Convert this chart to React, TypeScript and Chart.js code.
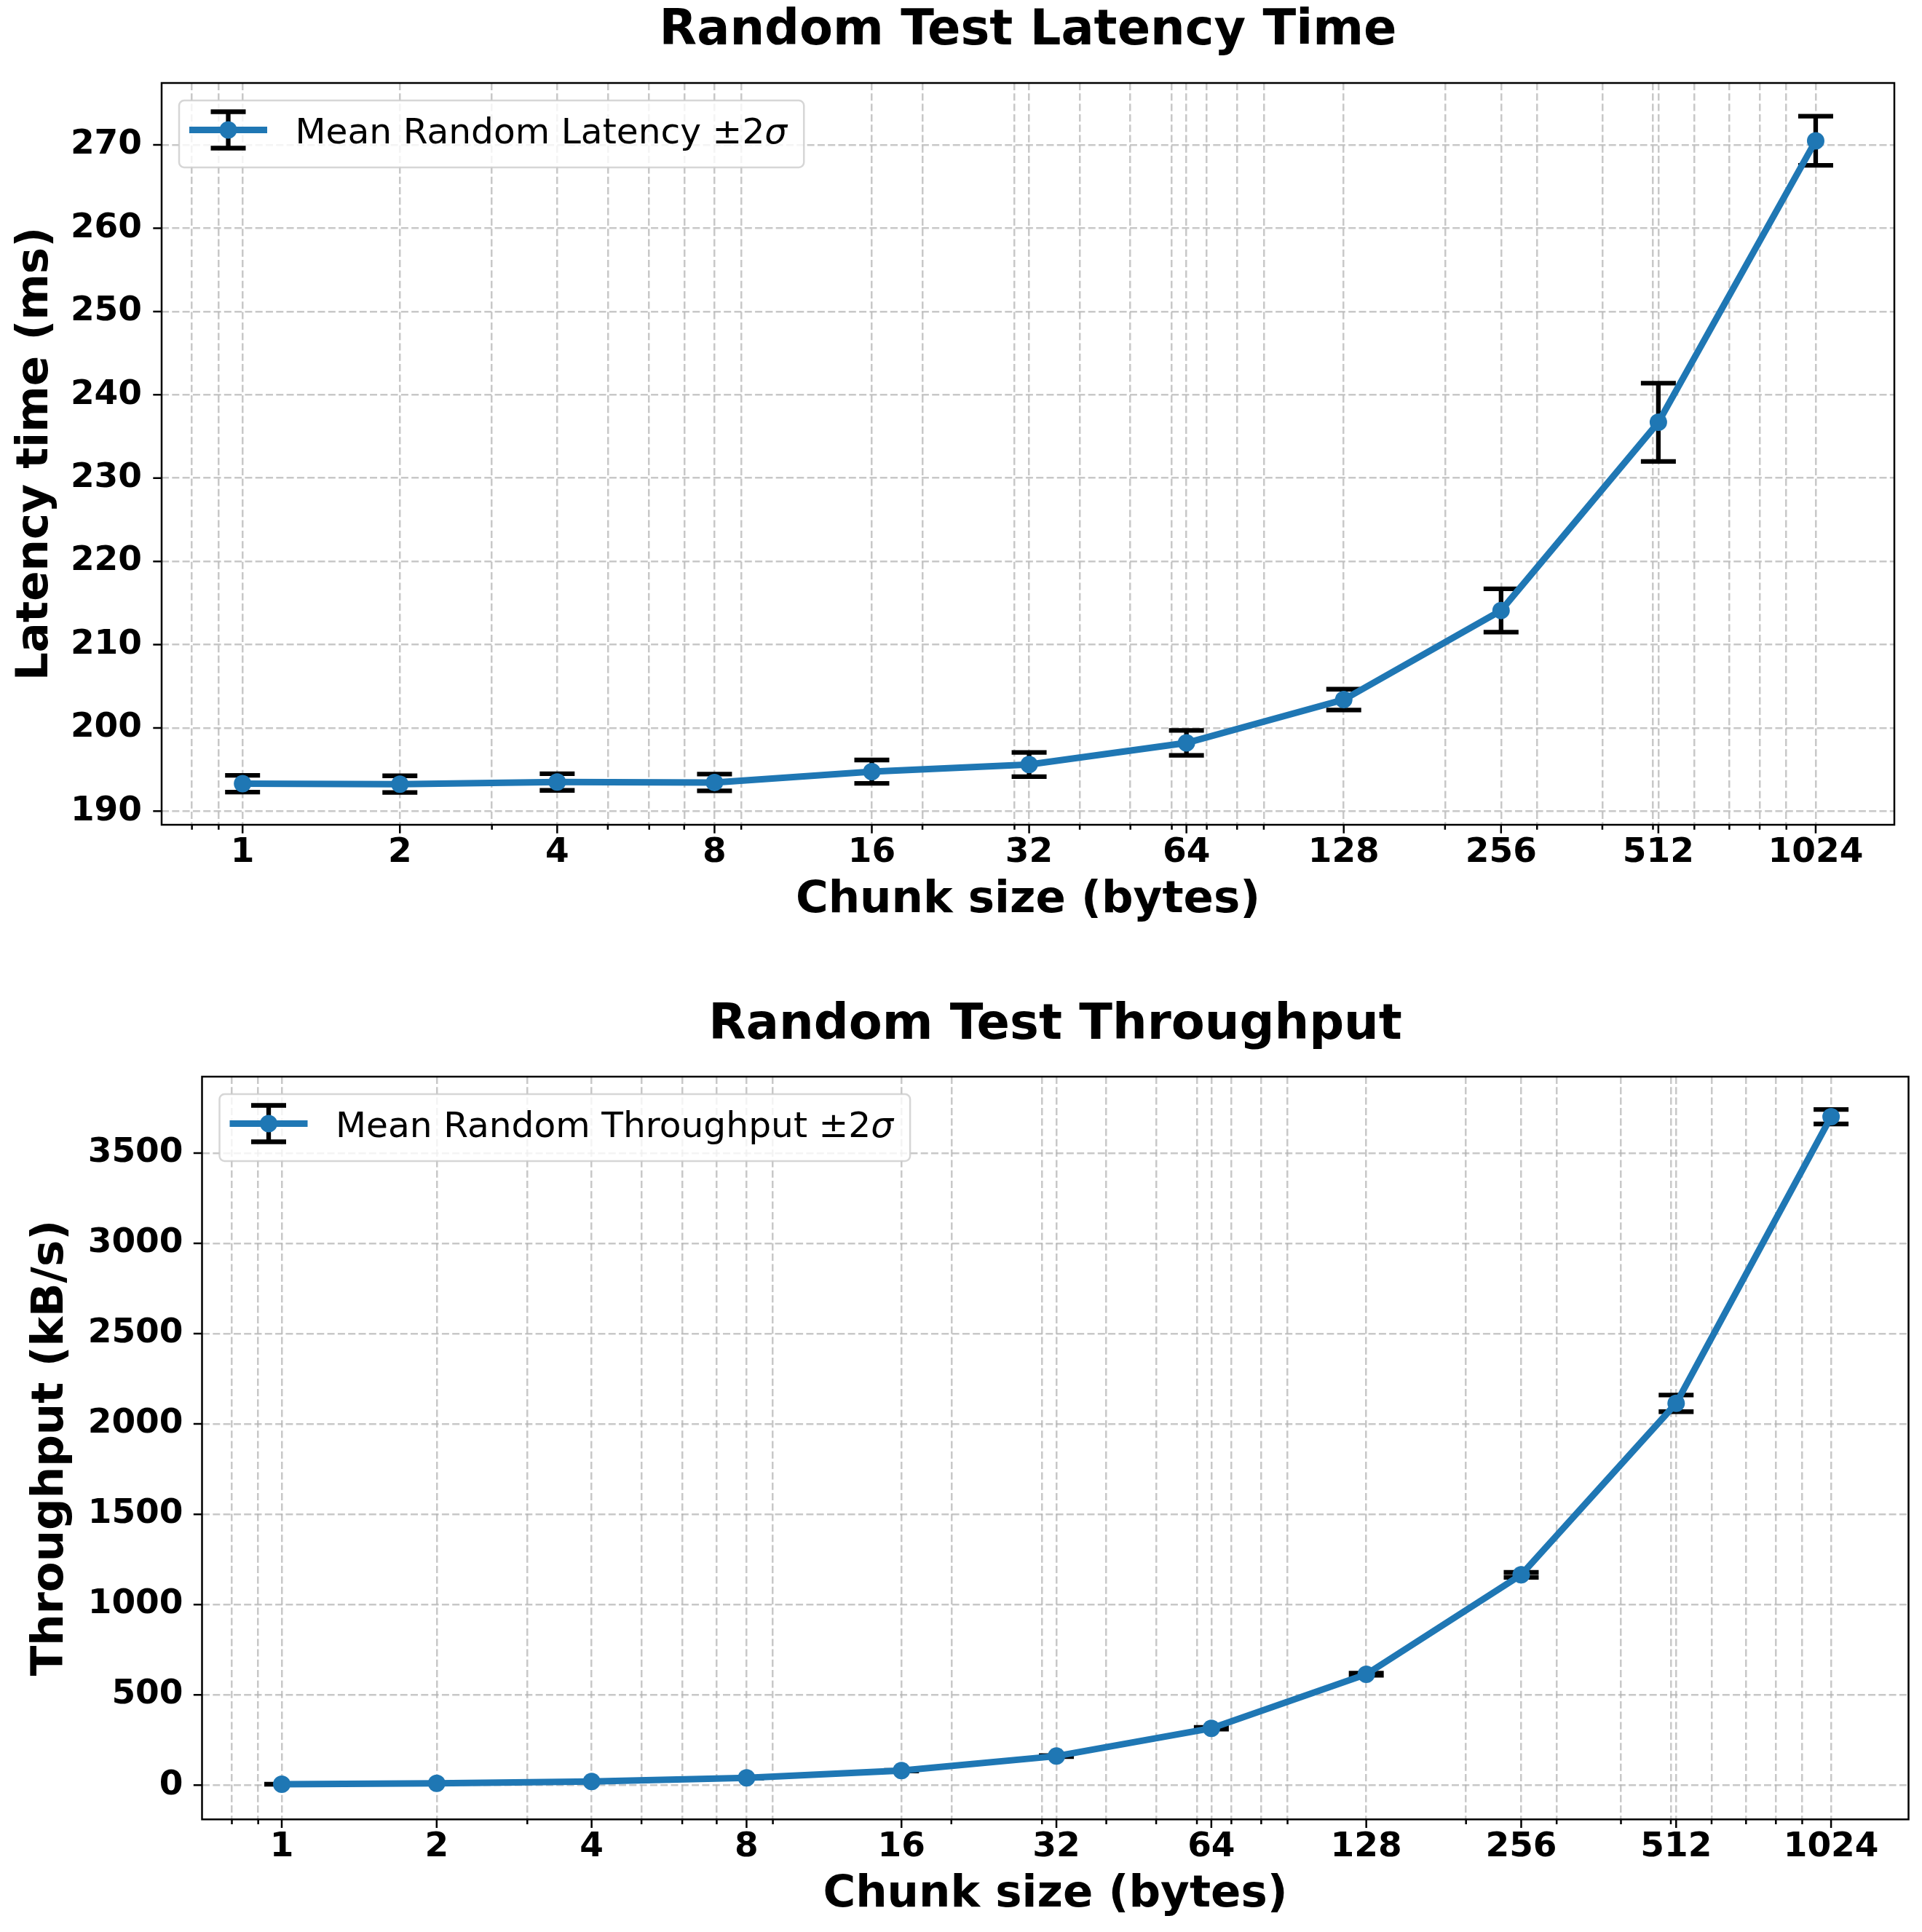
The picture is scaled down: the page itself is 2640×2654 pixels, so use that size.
import React, { useEffect, useRef } from 'react';
import { Chart, registerables } from 'chart.js';

Chart.register(...registerables);

// values
const chunkSizes = [1, 2, 4, 8, 16, 32, 64, 128, 256, 512, 1024];
const latencyMean = [193.3, 193.25, 193.5, 193.45, 194.75, 195.6, 198.2, 203.4, 214.1, 236.7, 270.5];
const latencyErr = [1.0, 1.0, 1.0, 1.0, 1.4, 1.45, 1.5, 1.25, 2.6, 4.7, 2.95];
const throughputMean = [5.1, 10.1, 20.2, 40.4, 80.5, 161, 315, 614, 1165, 2114, 3701];
const throughputErr = [0.5, 0.5, 0.7, 1, 2, 3, 5, 6, 14, 46, 40];

const majorTicks = [1, 2, 4, 8, 16, 32, 64, 128, 256, 512, 1024];
const minorTicks = [0.8, 0.9, 2, 3, 4, 5, 6, 7, 8, 9, 20, 30, 40, 50, 60, 70, 80, 90, 200, 300, 400, 500, 600, 700, 800, 900];
const latencyTicks = [190, 200, 210, 220, 230, 240, 250, 260, 270];
const throughputTicks = [0, 500, 1000, 1500, 2000, 2500, 3000, 3500];

const FONT = '"DejaVu Sans", sans-serif';
const BLUE = '#1f77b4';
const GRID = 'rgba(176,176,176,0.7)';
const LEGEND_SIZE = 48.7;
const xTickValues = Array.from(new Set([...majorTicks, ...minorTicks])).sort((a, b) => a - b);

const errorBarPlugin = (errors: number[]) => ({
  id: 'errorBars',
  beforeDatasetsDraw(chart: any) {
    const { ctx, scales: { x, y } } = chart;
    const data = chart.data.datasets[0].data as { x: number; y: number }[];
    ctx.save();
    ctx.strokeStyle = '#000';
    ctx.lineWidth = 6.3;
    data.forEach((d, i) => {
      const px = x.getPixelForValue(d.x);
      const top = y.getPixelForValue(d.y + errors[i]);
      const bot = y.getPixelForValue(d.y - errors[i]);
      ctx.beginPath();
      ctx.moveTo(px, top);
      ctx.lineTo(px, bot);
      ctx.moveTo(px - 24, top);
      ctx.lineTo(px + 24, top);
      ctx.moveTo(px - 24, bot);
      ctx.lineTo(px + 24, bot);
      ctx.stroke();
    });
    ctx.restore();
  },
});

// matplotlib-like box frame and outward tick marks
const frameTicksPlugin = {
  id: 'frameTicks',
  afterDraw(chart: any) {
    const { ctx, chartArea: a, scales: { x, y } } = chart;
    ctx.save();
    ctx.strokeStyle = '#000';
    ctx.lineWidth = 2.5;
    ctx.beginPath();
    x.ticks.forEach((t: any) => {
      const px = x.getPixelForValue(t.value);
      const len = majorTicks.includes(t.value) ? 11.7 : 6.7;
      ctx.moveTo(px, a.bottom);
      ctx.lineTo(px, a.bottom + len);
    });
    y.ticks.forEach((t: any) => {
      const py = y.getPixelForValue(t.value);
      ctx.moveTo(a.left, py);
      ctx.lineTo(a.left - 11.7, py);
    });
    ctx.stroke();
    ctx.strokeRect(a.left, a.top, a.right - a.left, a.bottom - a.top);
    ctx.restore();
  },
};

// legend box in the upper left corner with an errorbar glyph
const errorLegendPlugin = {
  id: 'errorLegend',
  afterDraw(chart: any) {
    const { ctx, chartArea: a } = chart;
    const label: string = chart.data.datasets[0].label;
    const base = label.slice(0, -1);
    const sigma = label.slice(-1);
    const normal = `normal ${LEGEND_SIZE}px ${FONT}`;
    const italic = `italic ${LEGEND_SIZE}px ${FONT}`;
    ctx.save();
    ctx.font = normal;
    const w1 = ctx.measureText(base).width;
    ctx.font = italic;
    const w2 = ctx.measureText(sigma).width;
    const left = a.left + 24;
    const top = a.top + 24;
    const width = 159.5 + w1 + w2 + 23;
    ctx.beginPath();
    ctx.roundRect(left, top, width, 92, 7);
    ctx.fillStyle = 'rgba(255,255,255,0.8)';
    ctx.fill();
    ctx.strokeStyle = 'rgba(204,204,204,0.8)';
    ctx.lineWidth = 2.5;
    ctx.stroke();

    const cx = left + 67.5;
    const cy = top + 40.5;
    ctx.strokeStyle = '#000';
    ctx.lineWidth = 6.3;
    ctx.beginPath();
    ctx.moveTo(cx, cy - 25);
    ctx.lineTo(cx, cy + 25);
    ctx.moveTo(cx - 24, cy - 25);
    ctx.lineTo(cx + 24, cy - 25);
    ctx.moveTo(cx - 24, cy + 25);
    ctx.lineTo(cx + 24, cy + 25);
    ctx.stroke();
    ctx.strokeStyle = BLUE;
    ctx.lineWidth = 9;
    ctx.beginPath();
    ctx.moveTo(left + 14, cy);
    ctx.lineTo(left + 121, cy);
    ctx.stroke();
    ctx.fillStyle = BLUE;
    ctx.beginPath();
    ctx.arc(cx, cy, 12, 0, Math.PI * 2);
    ctx.fill();

    ctx.fillStyle = '#000';
    ctx.textBaseline = 'alphabetic';
    ctx.textAlign = 'left';
    ctx.font = normal;
    ctx.fillText(base, left + 159.5, top + 59);
    ctx.font = italic;
    ctx.fillText(sigma, left + 159.5 + w1, top + 59);
    ctx.restore();
  },
};

type Props = {
  top: number;
  height: number;
  title: string;
  titlePad: { top: number; bottom: number };
  yTitle: string;
  yTitlePad: number;
  xTitlePad: number;
  yWidth: number;
  xHeight: number;
  rightPad: number;
  yTickPad: number;
  yMin: number;
  yMax: number;
  yTicks: number[];
  means: number[];
  errors: number[];
  label: string;
};

const ErrorBarChart = (p: Props) => {
  const chartRef = useRef<HTMLCanvasElement | null>(null);

  useEffect(() => {
    const ctx = chartRef.current!.getContext('2d')!;
    const chartInstance = new Chart(ctx, {
      type: 'line',
      data: {
        datasets: [
          {
            label: p.label,
            data: chunkSizes.map((c, i) => ({ x: c, y: p.means[i] })),
            borderColor: BLUE,
            backgroundColor: BLUE,
            borderWidth: 9,
            pointRadius: 12,
            pointHoverRadius: 12,
            pointBorderWidth: 0,
            pointBackgroundColor: BLUE,
            tension: 0,
          },
        ],
      },
      options: {
        animation: false,
        responsive: false,
        devicePixelRatio: 1,
        events: [],
        layout: { padding: { left: 0, top: 0, bottom: 0, right: p.rightPad } },
        scales: {
          x: {
            type: 'logarithmic',
            min: Math.SQRT1_2,
            max: 1024 * Math.SQRT2,
            afterBuildTicks: (scale: any) => {
              scale.ticks = xTickValues.map((v) => ({ value: v }));
            },
            afterFit: (scale: any) => {
              scale.height = p.xHeight;
            },
            ticks: {
              autoSkip: false,
              maxRotation: 0,
              minRotation: 0,
              padding: 10.5,
              color: '#000',
              font: { family: FONT, size: 47, weight: 'bold' },
              callback: (value: any) => (majorTicks.includes(Number(value)) ? String(value) : ''),
            },
            grid: { color: GRID, lineWidth: 2.5, drawTicks: false },
            border: { display: false, dash: [10, 4.3] },
            title: {
              display: true,
              text: 'Chunk size (bytes)',
              color: '#000',
              font: { family: FONT, size: 61, weight: 'bold' },
              padding: { top: 0, bottom: p.xTitlePad },
            },
          },
          y: {
            type: 'linear',
            min: p.yMin,
            max: p.yMax,
            afterBuildTicks: (scale: any) => {
              scale.ticks = p.yTicks.map((v) => ({ value: v }));
            },
            afterFit: (scale: any) => {
              scale.width = p.yWidth;
            },
            ticks: {
              padding: p.yTickPad,
              color: '#000',
              font: { family: FONT, size: 47, weight: 'bold' },
              callback: (value: any) => String(value),
            },
            grid: { color: GRID, lineWidth: 2.5, drawTicks: false },
            border: { display: false, dash: [10, 4.3] },
            title: {
              display: true,
              text: p.yTitle,
              color: '#000',
              font: { family: FONT, size: 61, weight: 'bold' },
              padding: { top: p.yTitlePad, bottom: 0 },
            },
          },
        },
        plugins: {
          legend: { display: false },
          tooltip: { enabled: false },
          title: {
            display: true,
            text: p.title,
            color: '#000',
            fullSize: false,
            font: { family: FONT, size: 67, weight: 'bold' },
            padding: p.titlePad,
          },
        },
      } as any,
      plugins: [errorBarPlugin(p.errors), frameTicksPlugin, errorLegendPlugin],
    });

    return () => {
      chartInstance.destroy();
    };
  }, []);

  return (
    <canvas
      ref={chartRef}
      width={2640}
      height={p.height}
      style={{ position: 'absolute', left: 0, top: p.top, width: 2640, height: p.height }}
    />
  );
};

export default function App() {
  return (
    <div style={{ position: 'absolute', left: 0, top: 0, width: 2640, height: 2654, background: '#fff' }}>
      <ErrorBarChart
        top={0}
        height={1320}
        title="Random Test Latency Time"
        titlePad={{ top: 3.3, bottom: 30.3 }}
        yTitle="Latency time (ms)"
        yTitlePad={13}
        xTitlePad={46.5}
        yWidth={222}
        xHeight={187}
        rightPad={38}
        yTickPad={27}
        yMin={188.37}
        yMax={277.44}
        yTicks={latencyTicks}
        means={latencyMean}
        errors={latencyErr}
        label="Mean Random Latency ±2σ"
      />
      <ErrorBarChart
        top={1320}
        height={1334}
        title="Random Test Throughput"
        titlePad={{ top: 49.6, bottom: 29 }}
        yTitle="Throughput (kB/s)"
        yTitlePad={33.3}
        xTitlePad={14.2}
        yWidth={277.5}
        xHeight={154.7}
        rightPad={18.5}
        yTickPad={26}
        yMin={-189.4}
        yMax={3923}
        yTicks={throughputTicks}
        means={throughputMean}
        errors={throughputErr}
        label="Mean Random Throughput ±2σ"
      />
    </div>
  );
}
